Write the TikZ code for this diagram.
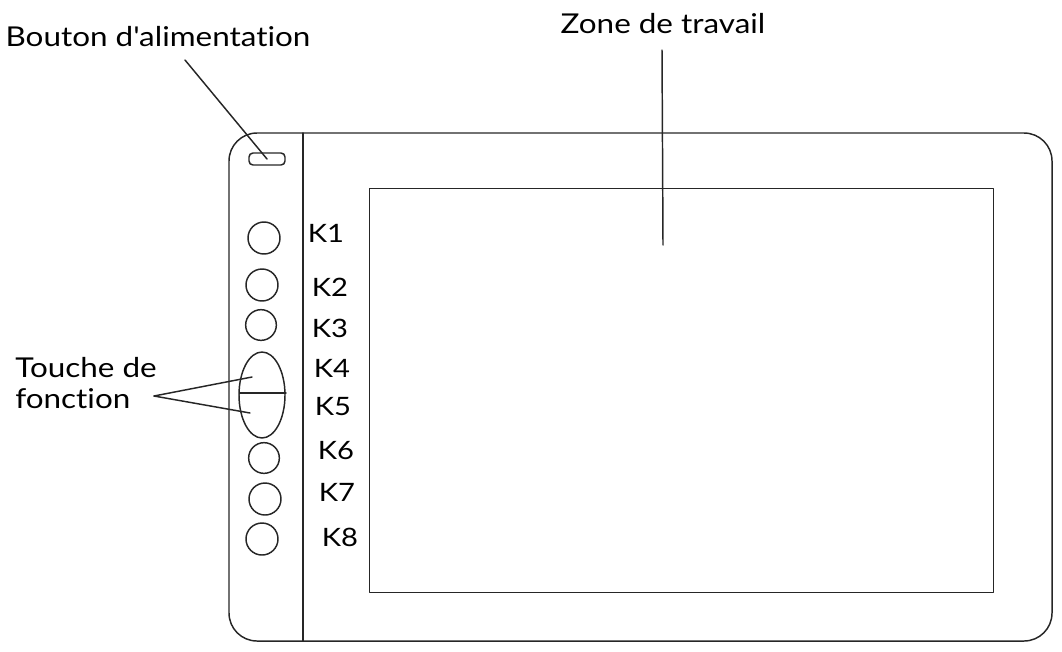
\documentclass[tikz,border=0pt]{standalone}
\usepackage{fontspec}
\setmainfont{Lato}
\newfontfamily\handfont{Lato}[FakeStretch=1.15, Ligatures=NoCommon]
\usetikzlibrary{shapes.geometric}
\tikzset{
  ln/.style={line width=1.1pt, draw=black!85, line cap=round, line join=round},
  lbl/.style={inner sep=0pt, font=\handfont\fontsize{20.5}{23}\selectfont},
  klbl/.style={inner sep=0pt, font=\handfont\fontsize{19}{22}\selectfont},
  key/.style={ln, draw, circle, inner sep=0pt},
}
\begin{document}
\begin{tikzpicture}[x=0.75pt, y=-0.75pt]
\useasboundingbox (0,0) rectangle (1062,651);
% tablet body
\draw[ln, rounded corners=21pt] (229,133) rectangle (1052,641);
\coordinate (divtop) at (303,133);
\coordinate (divbot) at (303,641);
\draw[ln] (divtop) -- (divbot);
\node[ln, draw, rectangle, inner sep=0pt, minimum width=468pt, minimum height=303pt, anchor=north west] (screen) at (369,188) {};
% power button
\node[ln, draw, rectangle, rounded corners=3pt, inner sep=0pt, minimum width=27pt, minimum height=9pt] (pwr) at (267,159) {};
% keys
\node[key, minimum size=24pt] (k1) at (264,238) {};
\node[key, minimum size=24pt] (k2) at (262,285) {};
\node[key, minimum size=23pt] (k3) at (261,325) {};
\node[ln, draw, ellipse, inner sep=0pt, minimum width=34.5pt, minimum height=64.5pt] (k45) at (262,395) {};
\draw[ln] (240,393) -- (286,393);
\node[key, minimum size=23pt] (k6) at (264,458) {};
\node[key, minimum size=24pt] (k7) at (265,499) {};
\node[key, minimum size=24pt] (k8) at (262,539) {};
% key labels
\node[klbl] (t1) at (326,233) {K1};
\node[klbl] (t2) at (330,287) {K2};
\node[klbl] (t3) at (330,328) {K3};
\node[klbl] (t4) at (332,368) {K4};
\node[klbl] (t5) at (333,407) {K5};
\node[klbl] (t6) at (336,451) {K6};
\node[klbl] (t7) at (337,492) {K7};
\node[klbl] (t8) at (340,537) {K8};
% callouts
\node[lbl] (lpower) at (158,37) {Bouton d'alimentation};
\coordinate (lpowerend) at (185,60);
\draw[ln] (lpowerend) -- (pwr.center);
\node[lbl] (lzone) at (663,24) {Zone de travail};
\coordinate (zonetop) at (662,50);
\coordinate (zonebot) at (663,245);
\draw[ln] (zonetop) -- (zonebot);
\node[lbl, align=left, anchor=north west] (lfn) at (15,357) {Touche de\\fonction};
\coordinate (fnsrc) at (154,396);
\coordinate (fnk4) at (252,377);
\coordinate (fnk5) at (250,413);
\draw[ln] (fnsrc) -- (fnk4);
\draw[ln] (fnsrc) -- (fnk5);
\end{tikzpicture}
\end{document}
